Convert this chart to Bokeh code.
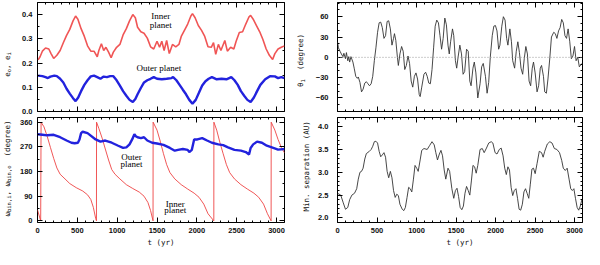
import math
from bokeh.plotting import figure
from bokeh.layouts import row, column
from bokeh.models import LinearAxis, FixedTicker, Label, Span, Range1d, NumeralTickFormatter
from bokeh.embed import file_html
from bokeh.resources import INLINE

# ---------------- data ----------------
# top-left: eccentricities
ei_t = [8, 32, 61, 101, 142, 170, 203, 243, 284, 324, 365, 405, 446, 478, 507, 547, 588, 628, 669, 709,
        750, 770, 802, 831, 859, 892, 924, 952, 993, 1034, 1074, 1115, 1155, 1196, 1228, 1256, 1297, 1337, 1378, 1419,
        1459, 1500, 1532, 1560, 1589, 1621, 1654, 1694, 1735, 1775, 1804, 1844, 1885, 1925, 1945, 1978, 2018, 2059, 2099, 2140,
        2181, 2209, 2237, 2270, 2302, 2351, 2383, 2424, 2464, 2493, 2533, 2574, 2614, 2655, 2675, 2707, 2748, 2789, 2829, 2870,
        2910, 2951, 2979, 3019, 3060, 3100]
e_inner = [0.213, 0.226, 0.249, 0.262, 0.258, 0.239, 0.219, 0.232, 0.252, 0.284, 0.314, 0.339, 0.374, 0.394, 0.381, 0.342, 0.310, 0.271, 0.249, 0.249,
           0.226, 0.252, 0.280, 0.252, 0.265, 0.245, 0.222, 0.245, 0.265, 0.277, 0.316, 0.342, 0.374, 0.400, 0.387, 0.348, 0.329, 0.323, 0.303, 0.267,
           0.258, 0.290, 0.265, 0.290, 0.252, 0.293, 0.239, 0.277, 0.267, 0.277, 0.310, 0.335, 0.361, 0.394, 0.404, 0.387, 0.355, 0.335, 0.310, 0.267,
           0.265, 0.284, 0.236, 0.277, 0.252, 0.293, 0.249, 0.265, 0.258, 0.290, 0.326, 0.329, 0.361, 0.391, 0.397, 0.381, 0.355, 0.329, 0.297, 0.258,
           0.232, 0.215, 0.239, 0.258, 0.265, 0.271]
eo_t = [8, 61, 101, 130, 162, 211, 243, 284, 324, 365, 405, 446, 478, 511, 547, 588, 628, 669, 709, 750,
        790, 831, 871, 912, 952, 993, 1034, 1074, 1115, 1155, 1196, 1228, 1256, 1297, 1337, 1378, 1419, 1459, 1500, 1560,
        1621, 1682, 1702, 1743, 1783, 1824, 1864, 1905, 1945, 1986, 2026, 2067, 2108, 2148, 2189, 2249, 2310, 2371, 2432, 2472,
        2513, 2553, 2594, 2634, 2675, 2716, 2756, 2797, 2858, 2918, 2979, 3019, 3060, 3100]
e_outer = [0.148, 0.146, 0.142, 0.138, 0.144, 0.148, 0.146, 0.135, 0.120, 0.094, 0.074, 0.055, 0.043, 0.058, 0.084, 0.110, 0.129, 0.145, 0.148, 0.142,
           0.135, 0.144, 0.142, 0.146, 0.146, 0.129, 0.107, 0.084, 0.065, 0.048, 0.039, 0.052, 0.071, 0.097, 0.120, 0.129, 0.135, 0.142, 0.135, 0.133,
           0.135, 0.138, 0.142, 0.129, 0.110, 0.090, 0.071, 0.048, 0.032, 0.048, 0.077, 0.107, 0.125, 0.135, 0.142, 0.133, 0.135, 0.133, 0.142, 0.129,
           0.110, 0.084, 0.065, 0.048, 0.039, 0.058, 0.084, 0.110, 0.133, 0.146, 0.145, 0.138, 0.142, 0.138]

# bottom-left: periastron longitudes (degree)
wi_t = [0, 40, 45, 81, 122, 162, 203, 243, 284, 345, 405, 486, 567, 628, 669, 701, 730, 740, 741, 770,
        811, 851, 892, 932, 973, 1034, 1115, 1196, 1277, 1337, 1386, 1419, 1450, 1451, 1500, 1540, 1581, 1621, 1662, 1723,
        1804, 1885, 1966, 2027, 2087, 2140, 2213, 2214, 2249, 2290, 2330, 2371, 2412, 2472, 2553, 2634, 2716, 2776, 2837, 2886,
        2932, 2933, 2979, 3019, 3060, 3100]
w_inner = [40, 0, 360, 343, 308, 268, 228, 193, 170, 153, 136, 121, 109, 95, 78, 49, 9, 0, 360, 337,
           302, 262, 222, 187, 170, 153, 132, 118, 105, 90, 67, 38, 0, 360, 331, 291, 245, 205, 176, 153,
           132, 116, 101, 86, 61, 26, 0, 360, 331, 285, 245, 205, 176, 153, 132, 116, 101, 86, 61, 26,
           0, 360, 331, 297, 268, 248]
wo_t = [0, 61, 122, 203, 284, 365, 426, 466, 507, 527, 547, 567, 628, 730, 790, 851, 932, 1013, 1074, 1115,
        1155, 1188, 1216, 1236, 1256, 1297, 1337, 1378, 1439, 1500, 1581, 1662, 1723, 1763, 1824, 1885, 1905, 1937, 1966, 2006,
        2067, 2128, 2189, 2270, 2330, 2391, 2472, 2553, 2614, 2655, 2675, 2707, 2756, 2817, 2878, 2959, 3019, 3100]
w_outer = [316, 314, 312, 314, 305, 293, 285, 283, 285, 297, 320, 325, 320, 297, 289, 293, 285, 274, 266, 268,
           279, 297, 316, 308, 305, 302, 305, 293, 285, 282, 277, 266, 256, 259, 262, 259, 251, 259, 297, 297,
           302, 293, 285, 279, 276, 268, 259, 256, 251, 242, 266, 279, 289, 285, 274, 266, 260, 262]

# top-right: theta_1 (degree)
th_t = [0, 12, 32, 49, 69, 81, 101, 113, 130, 142, 154, 170, 195, 211, 231, 251, 263, 284, 304, 324,
        345, 365, 385, 405, 426, 446, 466, 486, 507, 527, 547, 567, 588, 608, 628, 648, 669, 689, 709, 721,
        738, 758, 770, 790, 811, 831, 851, 871, 892, 912, 932, 952, 973, 993, 1013, 1034, 1046, 1066, 1094, 1115,
        1135, 1155, 1175, 1196, 1216, 1236, 1256, 1277, 1297, 1317, 1337, 1358, 1378, 1398, 1414, 1431, 1455, 1471, 1492, 1508,
        1528, 1548, 1569, 1589, 1609, 1633, 1654, 1674, 1690, 1714, 1731, 1751, 1775, 1804, 1824, 1844, 1872, 1893, 1913, 1933,
        1958, 1978, 1998, 2018, 2039, 2055, 2079, 2099, 2120, 2140, 2156, 2181, 2201, 2217, 2241, 2262, 2282, 2302, 2322, 2343,
        2363, 2383, 2403, 2424, 2444, 2464, 2480, 2501, 2525, 2545, 2566, 2582, 2606, 2622, 2643, 2663, 2687, 2707, 2736, 2756,
        2776, 2797, 2817, 2837, 2857, 2878, 2898, 2918, 2939, 2959, 2979, 2999, 3019, 3040, 3060, 3092]
theta1 = [23, 14, 9, 5, 1, 6, -2, 7, -5, 1, -7, 1, -7, -16, -28, -31, -29, -37, -51, -47,
          -38, -36, -39, -42, -39, -28, -5, 14, 37, 51, 52, 44, 28, 32, 53, 54, 42, 18, 28, 35,
          25, 0, -12, 5, 16, 9, -18, -12, 2, -9, -35, -44, -28, -23, -32, -55, -58, -44, -25, -22,
          -28, -38, -39, -18, 14, 46, 55, 51, 32, 12, 28, 58, 48, 18, 5, 23, 42, 32, -5, -16,
          2, 18, 5, -25, -21, 12, 9, -35, -42, -16, -7, -23, -60, -39, -14, -9, -28, -53, -37, 0,
          32, 46, 47, 39, 12, 18, 46, 60, 55, 28, 18, 42, 23, -5, -16, 9, 23, 7, -16, -25,
          -2, 16, 5, -35, -42, -16, -7, -23, -51, -42, -16, -12, -28, -51, -53, -32, 0, 30, 37, 35,
          28, 39, 44, 56, 51, 32, 28, 42, 23, -2, 2, 16, -5, 0, -14, -9]

# bottom-right: minimum separation (AU)
ms_t = [0, 41, 73, 101, 130, 154, 182, 215, 243, 263, 284, 304, 324, 345, 365, 397, 426, 446, 466, 486,
        507, 527, 547, 567, 588, 608, 628, 648, 669, 689, 709, 730, 750, 770, 790, 819, 839, 859, 880, 900,
        920, 940, 961, 981, 1005, 1021, 1046, 1066, 1094, 1135, 1167, 1196, 1224, 1244, 1265, 1289, 1309, 1329, 1350, 1370,
        1398, 1419, 1447, 1471, 1492, 1512, 1532, 1552, 1573, 1593, 1613, 1633, 1654, 1674, 1694, 1714, 1735, 1755, 1775, 1804,
        1832, 1856, 1885, 1913, 1945, 1966, 1994, 2018, 2047, 2071, 2095, 2116, 2136, 2156, 2176, 2197, 2217, 2237, 2258, 2278,
        2298, 2318, 2339, 2359, 2379, 2399, 2420, 2440, 2460, 2480, 2501, 2525, 2553, 2582, 2602, 2622, 2655, 2687, 2715, 2744,
        2776, 2809, 2837, 2857, 2882, 2906, 2930, 2951, 2971, 2991, 3011, 3032, 3052, 3072, 3092]
min_sep = [2.54, 2.50, 2.33, 2.19, 2.23, 2.40, 2.50, 2.54, 2.64, 2.85, 3.00, 3.02, 3.09, 3.29, 3.41, 3.45, 3.50, 3.57, 3.67, 3.68,
           3.64, 3.46, 3.34, 3.38, 3.43, 3.33, 3.02, 2.88, 3.02, 2.88, 2.60, 2.45, 2.52, 2.49, 2.30, 2.19, 2.16, 2.23, 2.45, 2.67,
           2.64, 2.57, 2.85, 3.15, 3.08, 3.02, 3.27, 3.48, 3.52, 3.50, 3.59, 3.67, 3.60, 3.43, 3.27, 3.40, 3.48, 3.36, 3.05, 2.85,
           3.09, 3.02, 2.64, 2.43, 2.60, 2.65, 2.47, 2.23, 2.18, 2.26, 2.54, 2.69, 2.60, 2.50, 2.81, 3.15, 3.12, 2.98, 3.15, 3.50,
           3.52, 3.43, 3.53, 3.64, 3.67, 3.64, 3.43, 3.40, 3.50, 3.53, 3.36, 3.09, 2.95, 3.12, 3.05, 2.67, 2.49, 2.60, 2.64, 2.43,
           2.19, 2.17, 2.30, 2.57, 2.64, 2.54, 2.43, 2.74, 3.07, 3.09, 2.97, 3.19, 3.46, 3.43, 3.33, 3.46, 3.62, 3.67, 3.64, 3.52,
           3.50, 3.43, 3.26, 3.09, 3.04, 3.09, 2.85, 2.64, 2.60, 2.64, 2.43, 2.23, 2.17, 2.26, 2.40]

# ticks
X_MAJOR = [0, 500, 1000, 1500, 2000, 2500, 3000]
X_MINOR = [100, 200, 300, 400, 600, 700, 800, 900, 1100, 1200, 1300, 1400, 1600, 1700, 1800, 1900,
           2100, 2200, 2300, 2400, 2600, 2700, 2800, 2900, 3100]
E_MAJOR = [0.0, 0.1, 0.2, 0.3, 0.4]
E_MINOR = [0.05, 0.15, 0.25, 0.35, 0.45]
W_MAJOR = [0, 90, 180, 270, 360]
W_MINOR = [45, 135, 225, 315]
TH_MAJOR = [-60, -30, 0, 30, 60]
TH_MINOR = [-80, -70, -50, -40, -20, -10, 10, 20, 40, 50, 70, 80]
MS_MAJOR = [2.0, 2.5, 3.0, 3.5, 4.0]
MS_MINOR = [1.9, 2.1, 2.2, 2.3, 2.4, 2.6, 2.7, 2.8, 2.9, 3.1, 3.2, 3.3, 3.4, 3.6, 3.7, 3.8, 3.9, 4.1, 4.2]

X_RANGE = (0, 3100)
E_RANGE = (0, 0.45)
W_RANGE = (-6, 377)
TH_RANGE = (-80, 81)
MS_RANGE = (1.9, 4.2)

TICK_FONT = "Liberation Sans"
TICK_SIZE = "7.5px"
TITLE_FONT = "DejaVu Sans Mono"
TEXT_FONT = "Liberation Serif"


def style_axis(ax, ticks, minor, show_labels, standoff=4, fmt=None):
    ax.ticker = FixedTicker(ticks=ticks, minor_ticks=minor)
    ax.axis_line_color = None
    ax.major_tick_in = 5
    ax.major_tick_out = 0
    ax.minor_tick_in = 2
    ax.minor_tick_out = 0
    ax.major_tick_line_color = "black"
    ax.minor_tick_line_color = "black"
    ax.major_tick_line_width = 1
    ax.minor_tick_line_width = 1
    if show_labels:
        ax.major_label_text_font = TICK_FONT
        ax.major_label_text_font_size = TICK_SIZE
        ax.major_label_text_font_style = "bold"
        ax.major_label_text_color = "#111111"
        ax.major_label_standoff = standoff
        if fmt is not None:
            ax.formatter = fmt
    else:
        ax.major_label_text_font_size = "0px"
        ax.major_label_text_color = None
        ax.major_label_standoff = 0


def make_fig(width, height, left, right, top, bottom, yr, yticks, yminor, show_x, y_standoff, yfmt=None):
    p = figure(width=width, height=height, x_range=Range1d(*X_RANGE), y_range=Range1d(*yr),
               output_backend="svg", toolbar_location=None,
               min_border_left=left, min_border_right=right,
               min_border_top=top, min_border_bottom=bottom)
    p.grid.visible = False
    p.outline_line_color = "black"
    p.outline_line_width = 1
    p.outline_line_alpha = 1
    p.background_fill_color = "white"
    p.border_fill_color = "white"
    style_axis(p.below[0], X_MAJOR, X_MINOR, show_x, standoff=5)
    style_axis(p.left[0], yticks, yminor, True, standoff=y_standoff, fmt=yfmt)
    top_ax = LinearAxis()
    style_axis(top_ax, X_MAJOR, X_MINOR, False)
    right_ax = LinearAxis()
    style_axis(right_ax, yticks, yminor, False)
    p.add_layout(top_ax, "above")
    p.add_layout(right_ax, "right")
    return p


def title_fig(width, height, xc, yc, pieces):
    """Narrow strip holding a rotated axis title (positions in strip pixels)."""
    p = figure(width=width, height=height, x_range=Range1d(0, width), y_range=Range1d(0, height),
               output_backend="svg", toolbar_location=None,
               x_axis_location=None, y_axis_location=None,
               min_border_left=0, min_border_right=0, min_border_top=0, min_border_bottom=0)
    p.grid.visible = False
    p.outline_line_color = None
    p.background_fill_color = "white"
    p.border_fill_color = "white"
    total = sum(len(t) * 0.6 * s for t, s, sub in pieces)
    pos = yc - total / 2
    for text, size, sub in pieces:
        lead = len(text) - len(text.lstrip(" "))
        pos += lead * 0.6 * size
        body = text.lstrip(" ")
        p.add_layout(Label(x=xc + (1.8 if sub else 0), y=pos, text=body,
                           angle=math.pi / 2, text_align="left", text_baseline="middle",
                           text_font=TITLE_FONT, text_font_size=f"{size}px", text_color="#111111"))
        pos += len(body) * 0.6 * size
    return p


def tlabel(p, x, y, text):
    p.add_layout(Label(x=x, y=y, text=text, text_align="center", text_baseline="middle",
                       text_font=TEXT_FONT, text_font_size="9px", text_color="black"))


# panels: frames 248 px wide; left frames start at page x 44, right frames at page x 342
tl = make_fig(274, 116, 20, 6, 2, 5, E_RANGE, E_MAJOR, E_MINOR, False, 5, NumeralTickFormatter(format="0.0"))
bl = make_fig(274, 133, 20, 6, 1, 27, W_RANGE, W_MAJOR, W_MINOR, True, 5)
tr = make_fig(272, 116, 22, 2, 2, 5, TH_RANGE, TH_MAJOR, TH_MINOR, False, 9)
br = make_fig(272, 133, 22, 2, 1, 27, MS_RANGE, MS_MAJOR, MS_MINOR, True, 9, NumeralTickFormatter(format="0.0"))

for p in (bl, br):
    ax = p.below[0]
    ax.axis_label = "t (yr)"
    ax.axis_label_text_font = TITLE_FONT
    ax.axis_label_text_font_size = "7.5px"
    ax.axis_label_text_font_style = "normal"
    ax.axis_label_text_color = "#111111"
    ax.axis_label_standoff = 2

# curves
tl.line(ei_t, e_inner, color="#f05555", line_width=1.6)
tl.line(eo_t, e_outer, color="#2222dd", line_width=2.4)
bl.line(wi_t, w_inner, color="#ee4444", line_width=0.9)
bl.line(wo_t, w_outer, color="#2222dd", line_width=2.4)
tr.add_layout(Span(location=0, dimension="width", line_color="#999999", line_dash="1 2", line_width=1))
tr.line(th_t, theta1, color="#333333", line_width=0.9)
br.line(ms_t, min_sep, color="#333333", line_width=0.9)

# in-plot texts
tlabel(tl, 1548, 0.393, "Inner")
tlabel(tl, 1548, 0.358, "planet")
tlabel(tl, 1536, 0.181, "Outer  planet")
tlabel(bl, 1180, 233, "Outer")
tlabel(bl, 1180, 208, "planet")
tlabel(bl, 1730, 63, "Inner")
tlabel(bl, 1730, 38, "planet")

# y-axis titles in narrow strips
tlt = title_fig(16, 116, 6.8, 52, [("e", 7.5, False), ("o", 5.5, True), (", e", 7.5, False), ("i", 5.5, True)])
blt = title_fig(16, 133, 6.8, 81, [("\u03c9", 7.5, False), ("bin,i", 5.5, True), (", \u03c9", 7.5, False),
                                   ("bin,o", 5.5, True), ("  (degree)", 7.5, False)])
trt = title_fig(22, 116, 9.7, 56, [("\u03b8", 7.5, False), ("1", 5.5, True), ("  (degree)", 7.5, False)])
brt = title_fig(22, 133, 16.0, 83, [("Min. separation (AU)", 7.5, False)])

layout = row(column(tlt, blt), column(tl, bl), column(trt, brt), column(tr, br))
open("out.html", "w").write(file_html(layout, INLINE))
